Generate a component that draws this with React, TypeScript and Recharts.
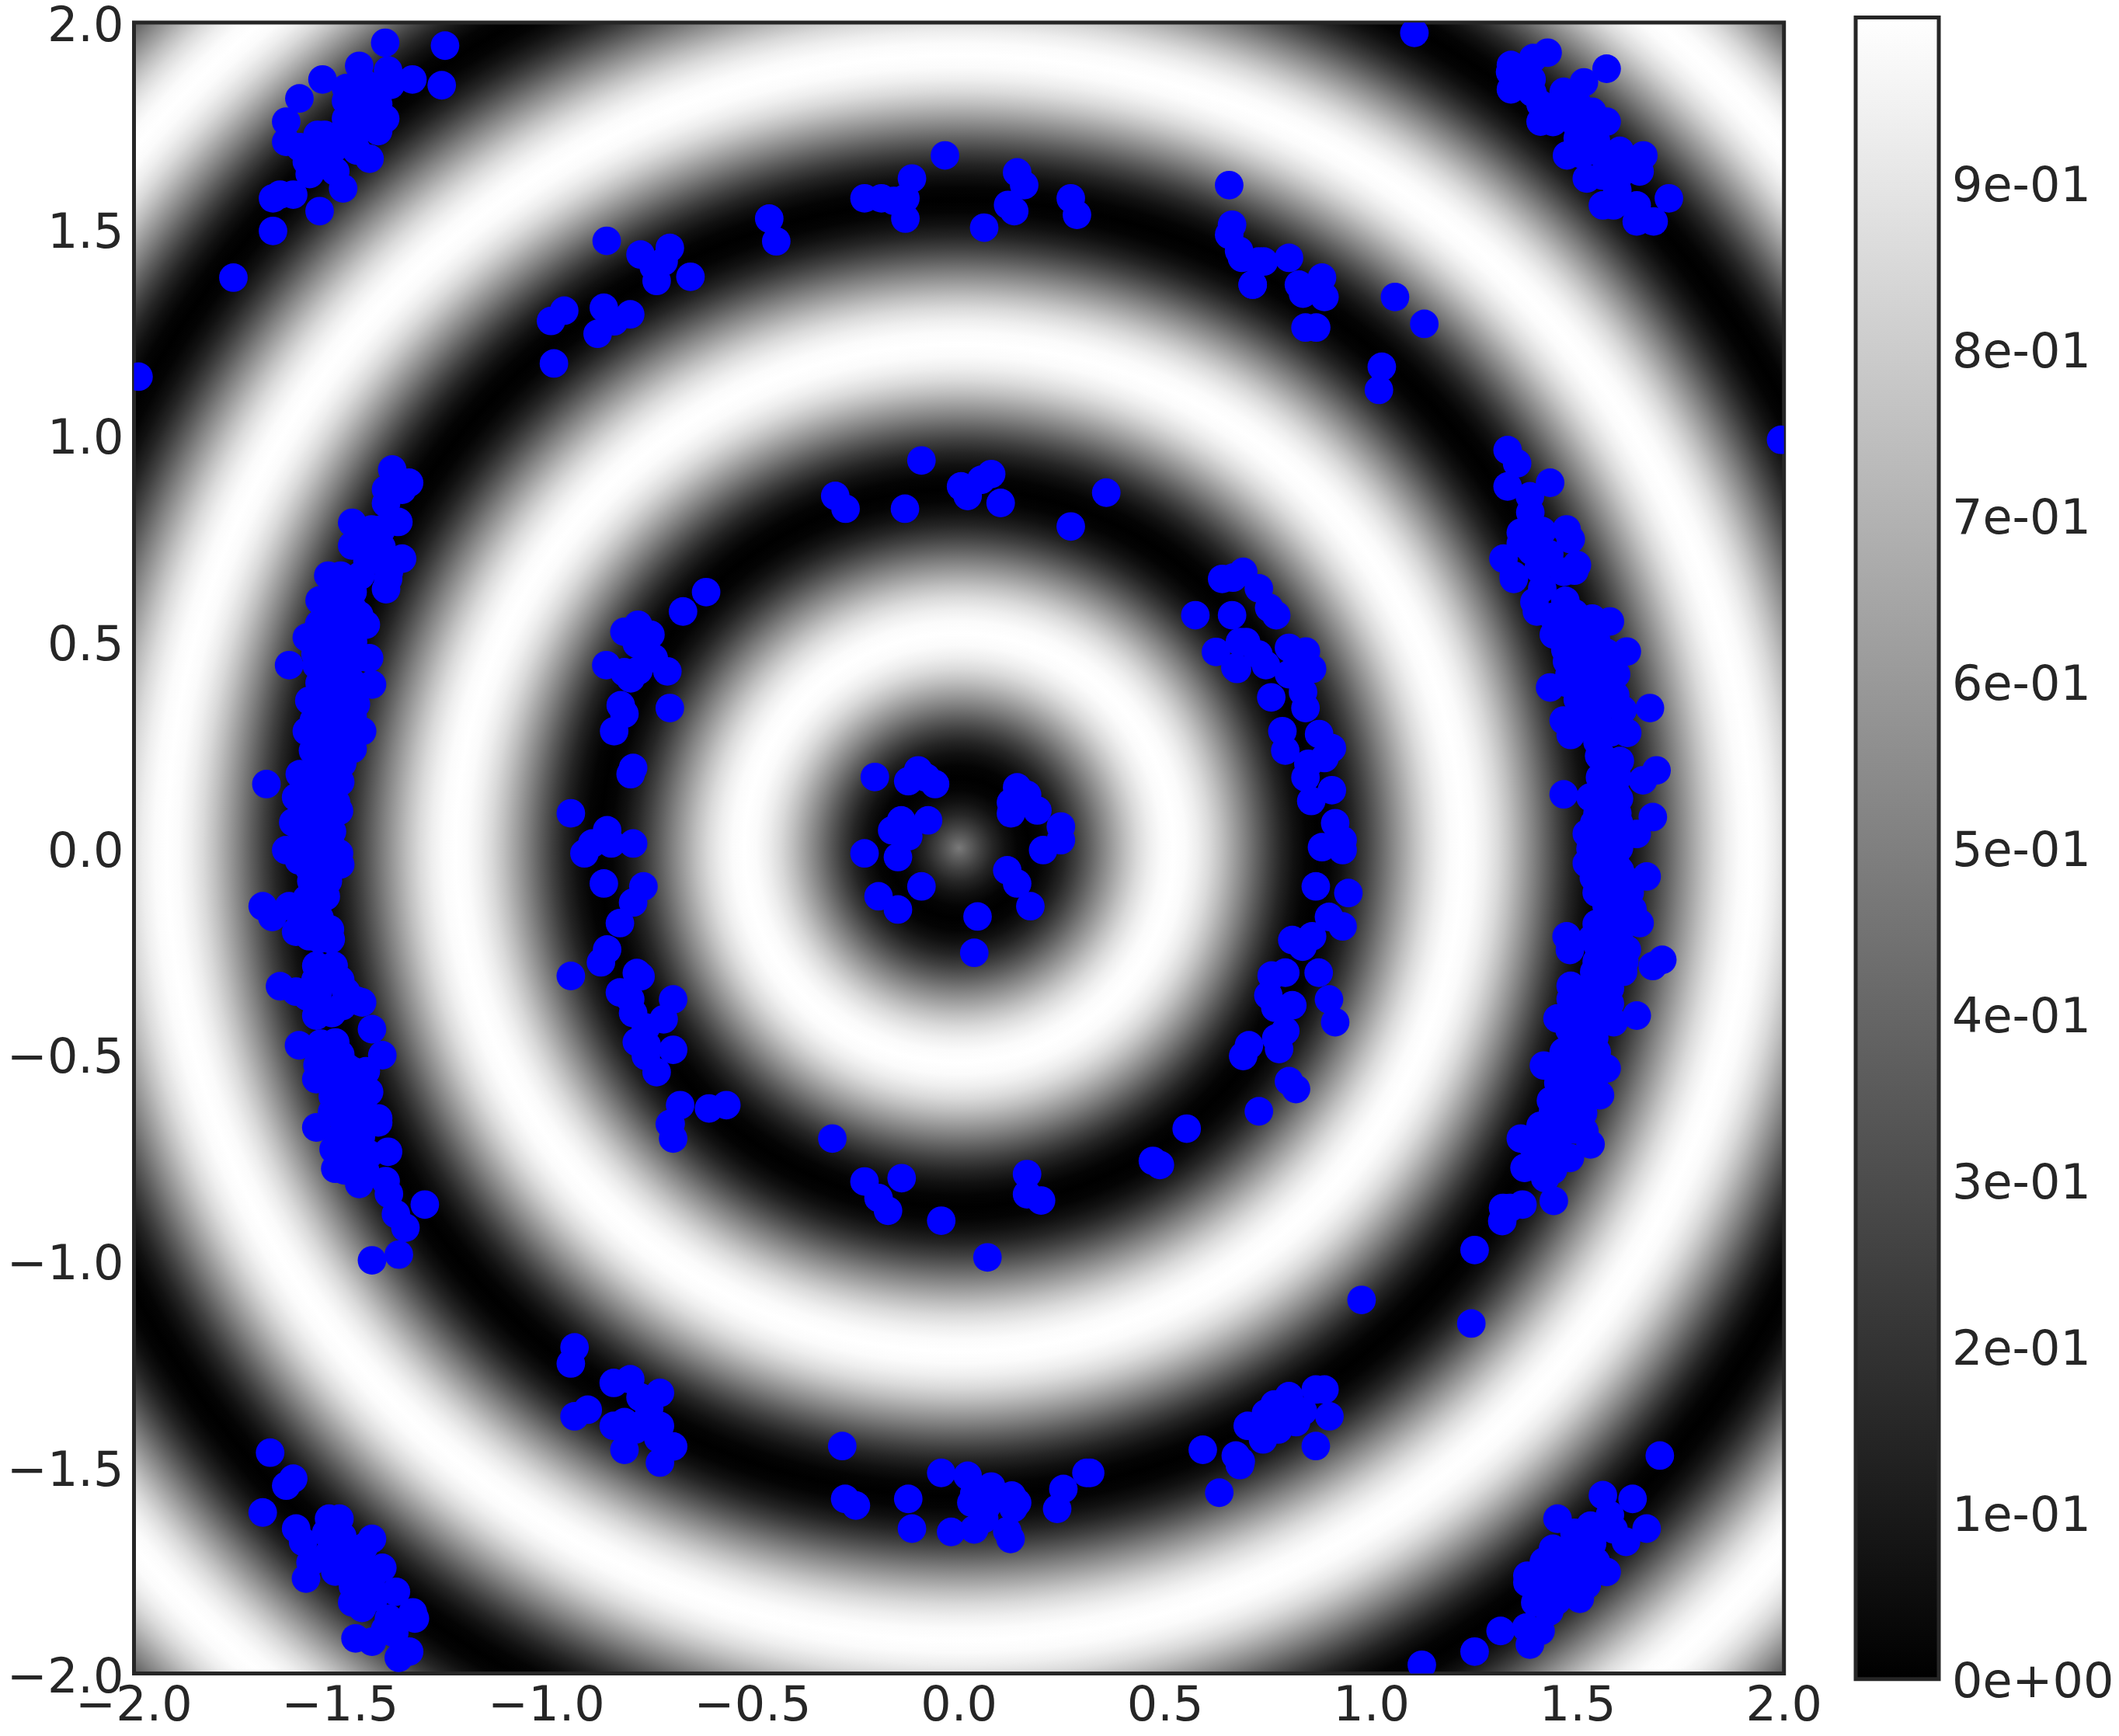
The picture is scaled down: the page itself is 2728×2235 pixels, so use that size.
import React from 'react';
import { ComposedChart, Scatter, XAxis, YAxis, ReferenceArea } from 'recharts';

const axisTicks = [-2, -1.5, -1, -0.5, 0, 0.5, 1, 1.5, 2];
const colorbarTicks = [0, 0.1, 0.2, 0.3, 0.4, 0.5, 0.6, 0.7, 0.8, 0.9];
const colorbarLabels = ['0e+00', '1e-01', '2e-01', '3e-01', '4e-01', '5e-01', '6e-01', '7e-01', '8e-01', '9e-01'];

// radial profile of the background, read along the rings: radius, level (0 black .. 1 white)
const ringRadius = [
  0, 0.0242, 0.0533, 0.0825, 0.1117, 0.1408, 0.17, 0.1992, 0.2283, 0.2575, 0.2867, 0.3158, 0.345, 0.3742, 0.4033, 0.4325, 0.4617, 0.4908, 0.52,
  0.5492, 0.5783, 0.6075, 0.6367, 0.6658, 0.695, 0.7242, 0.7533, 0.7825, 0.8117, 0.8408, 0.87,
  0.8992, 0.9283, 0.9575, 0.9867, 1.0158, 1.045, 1.0742, 1.1033, 1.1325, 1.1617, 1.1908, 1.22,
  1.2492, 1.2783, 1.3075, 1.3367, 1.3658, 1.395, 1.4242, 1.4533, 1.4825, 1.5117, 1.5408, 1.57,
  1.5992, 1.6283, 1.6575, 1.6867, 1.7158, 1.745, 1.7742, 1.8033, 1.8325, 1.8617, 1.8908, 1.92,
  1.9492, 1.9783, 2.0075, 2.0367, 2.0658, 2.095, 2.1242, 2.1533, 2.1825, 2.2117, 2.2408, 2.27,
  2.2992, 2.3283, 2.3575, 2.3867, 2.4158, 2.445, 2.4742, 2.5033, 2.5325, 2.5617, 2.5908, 2.62,
  2.6492, 2.6783, 2.7075, 2.7367, 2.7658, 2.795, 2.8242, 2.8284,
];
const ringLevel = [
  0.48, 0.371, 0.25, 0.146, 0.067, 0.017, 0, 0.017, 0.067, 0.146, 0.25, 0.371, 0.5, 0.629, 0.75, 0.854, 0.933, 0.983, 1,
  0.983, 0.933, 0.854, 0.75, 0.629, 0.5, 0.371, 0.25, 0.146, 0.067, 0.017, 0,
  0.017, 0.067, 0.146, 0.25, 0.371, 0.5, 0.629, 0.75, 0.854, 0.933, 0.983, 1,
  0.983, 0.933, 0.854, 0.75, 0.629, 0.5, 0.371, 0.25, 0.146, 0.067, 0.017, 0,
  0.017, 0.067, 0.146, 0.25, 0.371, 0.5, 0.629, 0.75, 0.854, 0.933, 0.983, 1,
  0.983, 0.933, 0.854, 0.75, 0.629, 0.5, 0.371, 0.25, 0.146, 0.067, 0.017, 0,
  0.017, 0.067, 0.146, 0.25, 0.371, 0.5, 0.629, 0.75, 0.854, 0.933, 0.983, 1,
  0.983, 0.933, 0.854, 0.75, 0.629, 0.5, 0.371, 0.35,
];

const topLeft = [[-1.391,1.951],[-1.246,1.944],[-1.254,1.848],[-1.325,1.862],[-1.384,1.884],[-1.454,1.895],[-1.543,1.862],[-1.599,1.816],[-1.631,1.76],[-1.631,1.711],[-1.486,1.841],[-1.443,1.854],[-1.408,1.845],[-1.378,1.849],[-1.486,1.81],[-1.434,1.81],[-1.408,1.802],[-1.486,1.767],[-1.443,1.767],[-1.391,1.767],[-1.408,1.737],[-1.451,1.741],[-1.495,1.733],[-1.555,1.728],[-1.538,1.728],[-1.521,1.72],[-1.598,1.698],[-1.555,1.689],[-1.512,1.698],[-1.469,1.707],[-1.429,1.67],[-1.581,1.663],[-1.547,1.655],[-1.574,1.633],[-1.512,1.639],[-1.493,1.598],[-1.614,1.583],[-1.646,1.583],[-1.663,1.574],[-1.55,1.543],[-1.663,1.495],[-1.759,1.382],[-1.989,1.142],[-1.46,1.79],[-1.42,1.78],[-1.46,1.69],[-1.53,1.67]];
const upperLeftInner = [[-0.854,1.471],[-0.772,1.438],[-0.701,1.454],[-0.716,1.421],[-0.74,1.408],[-0.733,1.374],[-0.651,1.384],[-0.957,1.302],[-0.989,1.277],[-0.861,1.309],[-0.797,1.293],[-0.836,1.276],[-0.876,1.246],[-0.982,1.174]];
const leftOuter = [[-1.374,0.917],[-1.333,0.885],[-1.35,0.868],[-1.389,0.869],[-1.389,0.835],[-1.471,0.788],[-1.359,0.79],[-1.424,0.772],[-1.4,0.772],[-1.471,0.733],[-1.434,0.738],[-1.4,0.729],[-1.35,0.701],[-1.499,0.66],[-1.529,0.66],[-1.434,0.695],[-1.4,0.695],[-1.451,0.66],[-1.382,0.669],[-1.517,0.655],[-1.384,0.652],[-1.512,0.619],[-1.389,0.627],[-1.454,0.564],[-1.438,0.541],[-1.551,0.543],[-1.581,0.51],[-1.521,0.569],[-1.495,0.534],[-1.529,0.508],[-1.469,0.499],[-1.43,0.46],[-1.557,0.443],[-1.624,0.443],[-1.521,0.456],[-1.486,0.43],[-1.512,0.413],[-1.423,0.396],[-1.512,0.378],[-1.575,0.357],[-1.462,0.348],[-1.495,0.352],[-1.538,0.335],[-1.564,0.309],[-1.581,0.283],[-1.447,0.283],[-1.495,0.292],[-1.538,0.274],[-1.482,0.257],[-1.566,0.236],[-1.521,0.231],[-1.495,0.205],[-1.508,0.188],[-1.598,0.179],[-1.547,0.188],[-1.679,0.155],[-1.607,0.123],[-1.564,0.145],[-1.525,0.127],[-1.503,0.09],[-1.555,0.093],[-1.614,0.062],[-1.572,0.058],[-1.525,0.019],[-1.572,0.024],[-1.631,-0.005],[-1.503,-0.013],[-1.59,-0.011],[-1.547,-0.02],[-1.575,-0.05],[-1.521,-0.046],[-1.535,-0.117],[-1.581,-0.123],[-1.688,-0.141],[-1.665,-0.167],[-1.624,-0.141],[-1.572,-0.158],[-1.607,-0.203],[-1.575,-0.214],[-1.525,-0.197],[-1.523,-0.221],[-1.558,-0.285],[-1.516,-0.285],[-1.538,-0.322],[-1.646,-0.335],[-1.607,-0.348],[-1.486,-0.348],[-1.555,-0.353],[-1.447,-0.374],[-1.495,-0.383],[-1.558,-0.406],[-1.423,-0.439],[-1.6,-0.478],[-1.547,-0.474],[-1.512,-0.471],[-1.398,-0.502],[-1.555,-0.526],[-1.486,-0.53],[-1.438,-0.541],[-1.558,-0.56],[-1.512,-0.565],[-1.469,-0.573],[-1.43,-0.591],[-1.518,-0.602],[-1.477,-0.617],[-1.408,-0.655],[-1.486,-0.655],[-1.558,-0.677],[-1.486,-0.669],[-1.408,-0.665],[-1.516,-0.73],[-1.469,-0.717],[-1.43,-0.742],[-1.384,-0.736],[-1.512,-0.777],[-1.49,-0.781],[-1.454,-0.814],[-1.39,-0.807],[-1.382,-0.838],[-1.295,-0.864],[-1.365,-0.887],[-1.342,-0.92],[-1.358,-0.985],[-1.423,-0.999]];
const leftOuterDense = [[-1.47,0.62],[-1.5,0.6],[-1.55,0.6],[-1.47,0.58],[-1.52,0.53],[-1.47,0.53],[-1.55,0.5],[-1.5,0.47],[-1.46,0.46],[-1.56,0.47],[-1.53,0.43],[-1.47,0.4],[-1.55,0.4],[-1.52,0.36],[-1.47,0.32],[-1.52,0.32],[-1.53,0.27],[-1.57,0.28],[-1.47,0.24],[-1.53,0.22],[-1.56,0.19],[-1.5,0.16],[-1.58,0.14],[-1.54,0.12],[-1.59,0.1],[-1.51,0.11],[-1.55,0.05],[-1.59,0.03],[-1.52,0.04],[-1.55,-0.03],[-1.6,-0.03],[-1.5,-0.04],[-1.57,-0.08],[-1.53,-0.08],[-1.56,-0.12],[-1.59,-0.17],[-1.55,-0.17],[-1.6,-0.15],[-1.55,-0.22],[-1.56,-0.32],[-1.5,-0.32],[-1.58,-0.36],[-1.52,-0.4],[-1.46,-0.37],[-1.55,-0.5],[-1.5,-0.5],[-1.53,-0.55],[-1.47,-0.54],[-1.45,-0.6],[-1.5,-0.58],[-1.45,-0.7],[-1.5,-0.7],[-1.44,-0.64],[-1.52,-0.64],[-1.47,-0.75],[-1.44,-0.78]];
const leftInner = [[-0.669,0.573],[-0.613,0.62],[-0.811,0.524],[-0.778,0.541],[-0.748,0.517],[-0.781,0.495],[-0.74,0.46],[-0.855,0.443],[-0.811,0.426],[-0.796,0.411],[-0.777,0.43],[-0.707,0.428],[-0.82,0.346],[-0.811,0.325],[-0.701,0.339],[-0.836,0.283],[-0.79,0.194],[-0.796,0.179],[-0.941,0.084],[-0.853,0.043],[-0.889,0.011],[-0.843,0.011],[-0.79,0.011],[-0.908,-0.013],[-0.861,-0.086],[-0.765,-0.093],[-0.79,-0.132],[-0.822,-0.182],[-0.853,-0.246],[-0.868,-0.277],[-0.941,-0.31],[-0.781,-0.303],[-0.772,-0.311],[-0.822,-0.35],[-0.797,-0.366],[-0.79,-0.4],[-0.693,-0.367],[-0.716,-0.415],[-0.759,-0.435],[-0.781,-0.47],[-0.757,-0.478],[-0.693,-0.489],[-0.759,-0.504],[-0.733,-0.543],[-0.676,-0.623],[-0.699,-0.668],[-0.701,-0.669],[-0.693,-0.704],[-0.606,-0.631],[-0.564,-0.623]];
const lowerLeftInner = [[-0.932,-1.21],[-0.941,-1.249],[-0.837,-1.296],[-0.797,-1.287],[-0.725,-1.32],[-0.772,-1.331],[-0.751,-1.357],[-0.9,-1.361],[-0.932,-1.377],[-0.837,-1.4],[-0.811,-1.391],[-0.785,-1.409],[-0.725,-1.4],[-0.76,-1.39],[-0.729,-1.43],[-0.693,-1.45],[-0.811,-1.458],[-0.725,-1.489]];
const bottomLeft = [[-1.67,-1.465],[-1.614,-1.528],[-1.631,-1.545],[-1.688,-1.61],[-1.607,-1.649],[-1.59,-1.681],[-1.527,-1.625],[-1.502,-1.625],[-1.534,-1.659],[-1.495,-1.668],[-1.423,-1.674],[-1.443,-1.694],[-1.572,-1.731],[-1.529,-1.711],[-1.486,-1.72],[-1.512,-1.753],[-1.583,-1.77],[-1.451,-1.746],[-1.398,-1.744],[-1.425,-1.772],[-1.469,-1.789],[-1.365,-1.802],[-1.471,-1.828],[-1.447,-1.841],[-1.417,-1.815],[-1.324,-1.852],[-1.319,-1.867],[-1.382,-1.867],[-1.463,-1.915],[-1.423,-1.923],[-1.391,-1.893],[-1.369,-1.902],[-1.333,-1.947],[-1.358,-1.962]];
const topMiddle = [[-0.46,1.525],[-0.443,1.47],[-0.229,1.574],[-0.188,1.574],[-0.158,1.568],[-0.13,1.574],[-0.114,1.622],[-0.13,1.525],[-0.034,1.678],[0.141,1.637],[0.158,1.606],[0.119,1.558],[0.134,1.543],[0.061,1.503],[0.271,1.574],[0.286,1.534],[0.655,1.606],[0.662,1.51],[0.655,1.486],[0.679,1.447],[0.686,1.43],[0.712,1.365]];
const upperInner = [[-0.091,0.939],[-0.3,0.853],[-0.275,0.822],[-0.131,0.822],[0.005,0.876],[0.021,0.853],[0.054,0.892],[0.078,0.906],[0.101,0.836],[0.271,0.779],[0.357,0.861]];
const topRight = [[1.104,1.975],[1.427,1.927],[1.392,1.914],[1.338,1.897],[1.336,1.88],[1.388,1.862],[1.338,1.838],[1.57,1.888],[1.515,1.855],[1.466,1.832],[1.41,1.802],[1.449,1.793],[1.5,1.802],[1.535,1.784],[1.57,1.76],[1.41,1.76],[1.44,1.759],[1.492,1.759],[1.535,1.75],[1.5,1.72],[1.544,1.715],[1.474,1.678],[1.509,1.681],[1.602,1.689],[1.659,1.678],[1.57,1.663],[1.613,1.655],[1.65,1.639],[1.522,1.622],[1.561,1.629],[1.596,1.594],[1.561,1.557],[1.587,1.557],[1.643,1.557],[1.721,1.574],[1.643,1.518],[1.684,1.518],[1.37,1.88],[1.39,1.83],[1.53,1.69],[1.6,1.63]];
const upperRightInner = [[1.057,1.335],[1.128,1.27],[1.025,1.166],[1.018,1.11],[0.726,1.421],[0.739,1.421],[0.8,1.43],[0.712,1.365],[0.824,1.365],[0.88,1.382],[0.834,1.343],[0.886,1.335],[0.86,1.352],[0.84,1.261],[0.866,1.261]];
const rightOuter = [[1.33,0.964],[1.353,0.932],[1.433,0.885],[1.33,0.876],[1.384,0.852],[1.385,0.813],[1.473,0.772],[1.362,0.764],[1.414,0.768],[1.483,0.748],[1.362,0.738],[1.32,0.701],[1.388,0.72],[1.431,0.712],[1.498,0.686],[1.345,0.66],[1.405,0.677],[1.466,0.669],[1.345,0.652],[1.492,0.672],[1.414,0.629],[1.395,0.596],[1.401,0.573],[1.47,0.599],[1.535,0.556],[1.578,0.549],[1.492,0.569],[1.442,0.517],[1.5,0.517],[1.544,0.508],[1.619,0.476],[1.57,0.473],[1.474,0.452],[1.522,0.456],[1.593,0.421],[1.544,0.421],[1.5,0.413],[1.433,0.389],[1.474,0.4],[1.591,0.37],[1.535,0.37],[1.513,0.357],[1.609,0.335],[1.675,0.339],[1.552,0.335],[1.466,0.309],[1.518,0.309],[1.483,0.274],[1.62,0.279],[1.548,0.257],[1.552,0.223],[1.602,0.211],[1.691,0.188],[1.658,0.164],[1.554,0.171],[1.596,0.171],[1.466,0.13],[1.531,0.123],[1.594,0.13],[1.561,0.127],[1.57,0.084],[1.548,0.084],[1.596,0.084],[1.682,0.075],[1.522,0.035],[1.643,0.034],[1.57,0.032],[1.604,0.032],[1.531,-0.002],[1.593,-0.002],[1.561,-0.002],[1.522,-0.037],[1.57,-0.046],[1.602,-0.054],[1.667,-0.069],[1.539,-0.072],[1.621,-0.08],[1.546,-0.108],[1.626,-0.108],[1.587,-0.115],[1.633,-0.149],[1.65,-0.182],[1.546,-0.184],[1.596,-0.175],[1.473,-0.214],[1.535,-0.219],[1.619,-0.246],[1.578,-0.227],[1.481,-0.247],[1.546,-0.275],[1.613,-0.275],[1.705,-0.271],[1.682,-0.286],[1.578,-0.271],[1.578,-0.305],[1.535,-0.331],[1.483,-0.334],[1.578,-0.34],[1.483,-0.366],[1.578,-0.377],[1.535,-0.374],[1.451,-0.413],[1.509,-0.418],[1.587,-0.422],[1.643,-0.406],[1.466,-0.494],[1.546,-0.494],[1.418,-0.527],[1.5,-0.513],[1.57,-0.534],[1.474,-0.539],[1.526,-0.547],[1.453,-0.569],[1.554,-0.599],[1.5,-0.573],[1.435,-0.612],[1.522,-0.599],[1.492,-0.617],[1.47,-0.634],[1.41,-0.673],[1.513,-0.642],[1.449,-0.66],[1.362,-0.704],[1.414,-0.682],[1.449,-0.708],[1.492,-0.682],[1.516,-0.686],[1.531,-0.718],[1.481,-0.751],[1.371,-0.775],[1.405,-0.773],[1.421,-0.8],[1.442,-0.855],[1.366,-0.864],[1.319,-0.872],[1.336,-0.872],[1.317,-0.904],[1.25,-0.974],[1.242,-1.152],[0.976,-1.095],[1.993,0.989]];
const rightOuterDense = [[1.44,0.56],[1.47,0.53],[1.52,0.52],[1.47,0.48],[1.53,0.48],[1.56,0.44],[1.48,0.42],[1.53,0.4],[1.57,0.38],[1.5,0.36],[1.55,0.3],[1.5,0.3],[1.58,0.28],[1.56,0.22],[1.58,0.2],[1.58,0.14],[1.6,0.12],[1.54,0.06],[1.56,0.05],[1.6,0.06],[1.54,0.02],[1.6,0],[1.55,-0.02],[1.59,-0.03],[1.55,-0.08],[1.59,-0.08],[1.57,-0.14],[1.6,-0.14],[1.62,-0.16],[1.58,-0.2],[1.55,-0.24],[1.6,-0.22],[1.54,-0.3],[1.61,-0.3],[1.52,-0.36],[1.56,-0.4],[1.53,-0.42],[1.48,-0.44],[1.5,-0.46],[1.54,-0.46],[1.49,-0.52],[1.53,-0.52],[1.46,-0.54],[1.5,-0.6],[1.46,-0.6],[1.54,-0.56],[1.44,-0.64],[1.48,-0.66],[1.42,-0.72],[1.46,-0.74],[1.39,-0.72],[1.44,-0.78]];
const rightInner = [[0.689,0.669],[0.727,0.629],[0.752,0.582],[0.769,0.564],[0.696,0.499],[0.726,0.469],[0.744,0.443],[0.674,0.434],[0.8,0.485],[0.841,0.476],[0.856,0.434],[0.8,0.421],[0.826,0.447],[0.757,0.365],[0.834,0.378],[0.84,0.339],[0.784,0.283],[0.873,0.276],[0.904,0.242],[0.791,0.236],[0.886,0.218],[0.847,0.204],[0.84,0.171],[0.904,0.14],[0.854,0.114],[0.912,0.06],[0.93,0.019],[0.88,0.002],[0.93,-0.005],[0.865,-0.093],[0.944,-0.109],[0.897,-0.167],[0.93,-0.19],[0.856,-0.214],[0.808,-0.223],[0.833,-0.239],[0.758,-0.309],[0.791,-0.302],[0.872,-0.302],[0.75,-0.357],[0.897,-0.367],[0.808,-0.381],[0.767,-0.387],[0.912,-0.422],[0.791,-0.443],[0.769,-0.461],[0.776,-0.487],[0.703,-0.478],[0.689,-0.504],[0.8,-0.565],[0.817,-0.584],[0.727,-0.638],[0.573,0.564],[0.638,0.652],[0.664,0.655],[0.662,0.564],[0.623,0.475],[0.67,0.437],[0.681,0.499]];
const lowerMiddle = [[-0.307,-0.704],[-0.229,-0.808],[-0.139,-0.8],[-0.195,-0.848],[-0.172,-0.879],[-0.043,-0.903],[0.069,-0.992],[0.165,-0.79],[0.165,-0.839],[0.199,-0.854],[0.47,-0.758],[0.487,-0.768],[0.552,-0.68]];
const bottomMiddle = [[-0.283,-1.449],[-0.276,-1.577],[-0.25,-1.593],[-0.123,-1.577],[-0.114,-1.649],[-0.043,-1.514],[0.021,-1.521],[0.078,-1.547],[0.037,-1.564],[0.128,-1.569],[0.141,-1.586],[0.03,-1.586],[0.067,-1.595],[0.132,-1.599],[0.061,-1.625],[0.037,-1.651],[-0.019,-1.657],[0.117,-1.655],[0.125,-1.674],[0.238,-1.601],[0.253,-1.553],[0.309,-1.514],[0.318,-1.514]];
const lowerRightInner = [[0.591,-1.458],[0.631,-1.562],[0.671,-1.472],[0.681,-1.495],[0.683,-1.486],[0.865,-1.449],[0.898,-1.377],[0.886,-1.312],[0.865,-1.312],[0.8,-1.328],[0.765,-1.348],[0.744,-1.37],[0.7,-1.4],[0.834,-1.365],[0.8,-1.383],[0.774,-1.409],[0.737,-1.433],[0.817,-1.391]];
const bottomRight = [[1.699,-1.472],[1.561,-1.568],[1.633,-1.577],[1.578,-1.616],[1.451,-1.625],[1.531,-1.642],[1.667,-1.649],[1.617,-1.681],[1.587,-1.651],[1.492,-1.659],[1.44,-1.698],[1.535,-1.685],[1.418,-1.729],[1.483,-1.711],[1.544,-1.729],[1.57,-1.754],[1.378,-1.763],[1.449,-1.755],[1.5,-1.755],[1.378,-1.78],[1.522,-1.785],[1.431,-1.789],[1.474,-1.798],[1.505,-1.819],[1.397,-1.828],[1.449,-1.824],[1.431,-1.85],[1.41,-1.897],[1.313,-1.897],[1.375,-1.889],[1.384,-1.93],[1.25,-1.947],[1.122,-1.979]];
const center = [[-0.204,0.172],[-0.099,0.188],[-0.123,0.162],[-0.08,0.171],[-0.058,0.155],[-0.14,0.067],[-0.075,0.067],[-0.162,0.043],[-0.123,0.028],[-0.149,0.05],[-0.229,-0.013],[-0.148,-0.022],[-0.091,-0.093],[-0.195,-0.117],[-0.148,-0.149],[0.045,-0.166],[0.037,-0.254],[0.141,0.147],[0.165,0.129],[0.126,0.11],[0.126,0.084],[0.154,0.11],[0.19,0.091],[0.247,0.052],[0.247,0.019],[0.204,-0.005],[0.117,-0.054],[0.141,-0.086],[0.173,-0.141]];

const points = [
  ...topLeft, ...upperLeftInner, ...leftOuter, ...leftOuterDense, ...leftInner, ...lowerLeftInner, ...bottomLeft,
  ...topMiddle, ...upperInner, ...topRight, ...upperRightInner, ...rightOuter, ...rightOuterDense, ...rightInner,
  ...lowerMiddle, ...bottomMiddle, ...lowerRightInner, ...bottomRight, ...center,
].map(([x, y]) => ({ x, y }));

const TEXT = '#262626';
const tickStyle = { fontSize: 62, fill: TEXT, fontFamily: '"DejaVu Sans"' };
const gray = (level: number) => {
  const v = Math.round(level * 255);
  return `rgb(${v},${v},${v})`;
};
const formatAxis = (v: number) => v.toFixed(1).replace('-', '\u2212');
const Dot = (p: any) => <circle cx={p.cx} cy={p.cy} r={18.4} fill="#0000ff" />;

const App: React.FC = () => (
  <div style={{ position: 'absolute', left: 0, top: 0, width: 2728, height: 2235, background: '#fff', overflow: 'hidden' }}>
    <div style={{ position: 'absolute', left: 0, top: 0 }}>
      <ComposedChart width={2360} height={2235} data={points} margin={{ top: 29, right: 63.3, bottom: 0.5, left: 0.5 }}>
        <defs>
          <radialGradient id="rings" cx="0.5" cy="0.5" r="0.7071">
            {ringRadius.map((r, i) => (
              <stop key={r} offset={r / 2.8284} stopColor={gray(ringLevel[i])} />
            ))}
          </radialGradient>
        </defs>
        <XAxis
          type="number"
          dataKey="x"
          domain={[-2, 2]}
          ticks={axisTicks}
          interval={0}
          allowDataOverflow
          height={80}
          axisLine={false}
          tickLine={false}
          tickSize={0}
          tickMargin={16}
          tick={tickStyle}
          tickFormatter={formatAxis}
        />
        <YAxis
          type="number"
          dataKey="y"
          domain={[-2, 2]}
          ticks={axisTicks}
          interval={0}
          allowDataOverflow
          width={172}
          axisLine={false}
          tickLine={false}
          tickSize={0}
          tickMargin={13}
          tick={{ ...tickStyle, dy: 2 }}
          tickFormatter={formatAxis}
        />
        <ReferenceArea x1={-2} x2={2} y1={-2} y2={2} fill="url(#rings)" fillOpacity={1} stroke="none" />
        <Scatter dataKey="y" fill="#0000ff" shape={Dot} isAnimationActive={false} />
        <ReferenceArea x1={-2} x2={2} y1={-2} y2={2} fill="none" stroke={TEXT} strokeWidth={5} />
      </ComposedChart>
    </div>
    <div style={{ position: 'absolute', left: 2300, top: 0 }}>
      <ComposedChart width={428} height={2235} data={colorbarTicks.map((v) => ({ x: 0.5, y: v }))} margin={{ top: 22.5, right: 0, bottom: 73.3, left: 89 }}>
        <defs>
          <linearGradient id="cbar" x1="0" y1="1" x2="0" y2="0">
            <stop offset={0} stopColor={gray(0)} />
            <stop offset={1} stopColor={gray(1)} />
          </linearGradient>
        </defs>
        <XAxis type="number" dataKey="x" domain={[0, 1]} hide />
        <YAxis
          type="number"
          dataKey="y"
          orientation="right"
          domain={[0, 1]}
          ticks={colorbarTicks}
          interval={0}
          width={232}
          axisLine={false}
          tickLine={false}
          tickSize={0}
          tickMargin={17}
          tick={{ ...tickStyle, dy: 1 }}
          tickFormatter={(v: number) => colorbarLabels[colorbarTicks.indexOf(v)]}
        />
        <ReferenceArea x1={0} x2={1} y1={0} y2={1} fill="url(#cbar)" fillOpacity={1} stroke={TEXT} strokeWidth={5} />
      </ComposedChart>
    </div>
  </div>
);

export default App;
